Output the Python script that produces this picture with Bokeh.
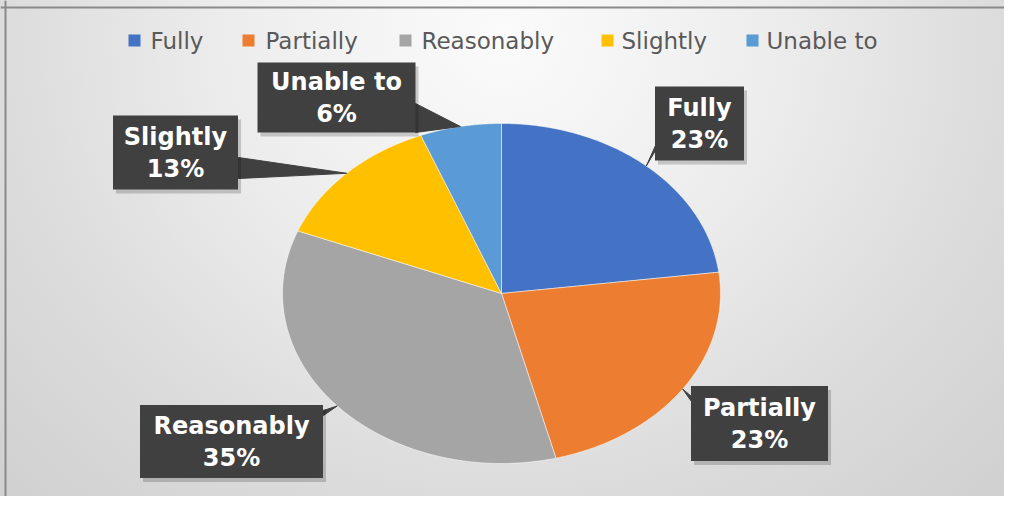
import numpy as np
from bokeh.plotting import figure
from bokeh.models import ColumnDataSource, Range1d, Span
from bokeh.core.properties import value
from bokeh.embed import file_html
from bokeh.resources import INLINE

# ---------------- data ----------------
categories = ["Fully", "Partially", "Reasonably", "Slightly", "Unable to"]
percent = [23, 23, 35, 13, 6]
colors = ["#4472C4", "#ED7D31", "#A5A5A5", "#FFC000", "#5B9BD5"]

# ---------------- layout (picture pixel coordinates) ----------------
W, H = 1004, 496
CX, CY, RX, RY = 501, 293, 219, 170
label_cx = [699, 759, 231, 175, 336]
label_cy = [123, 423, 441, 152, 97]
label_w = [89, 137, 183, 125, 158]
label_h = [74, 75, 73, 74, 70]
pointer_base = [((655, 145), (655, 150)),
                ((691, 396), (691, 401)),
                ((323, 410), (323, 415)),
                ((238, 157), (238, 178)),
                ((415, 103), (415, 132))]
legend_sq_x = [134, 248, 405, 607, 752]
legend_tx = [150, 265, 421, 621, 766]
legend_y = 40

p = figure(width=W, height=H, output_backend="svg", toolbar_location=None,
           x_range=Range1d(0, W), y_range=Range1d(H, 0),
           min_border=0, outline_line_color=None)
p.axis.visible = False
p.grid.visible = False
p.background_fill_color = None
p.border_fill_color = None
p.styles = {"background-image":
            "radial-gradient(ellipse farthest-corner at 50% 8%, #fbfbfb 0%, #ececec 40%, #dcdcdc 70%, #d0d0d0 100%)"}

# frame lines
p.add_layout(Span(location=7, dimension="width", line_color="#8a8a8a", line_width=2))
p.add_layout(Span(location=5, dimension="height", line_color="#8a8a8a", line_width=2))

# pie slices (clockwise from 12 o'clock) on an ellipse
total = float(sum(percent))
fr = np.cumsum([0] + percent) / total
xs, ys, tipx, tipy = [], [], [], []
for i in range(len(percent)):
    a = np.linspace(fr[i], fr[i + 1], 120) * 2 * np.pi
    xs.append([CX] + list(CX + RX * np.sin(a)))
    ys.append([CY] + list(CY - RY * np.cos(a)))
    m = (fr[i] + fr[i + 1]) * np.pi
    tipx.append(CX + RX * np.sin(m))
    tipy.append(CY - RY * np.cos(m))

src = ColumnDataSource(dict(xs=xs, ys=ys, color=colors, cat=categories))
p.patches("xs", "ys", source=src, fill_color="color", line_color="white",
          line_width=1, line_alpha=0.5)

# callout pointers
pxs, pys = [], []
for i, (b1, b2) in enumerate(pointer_base):
    pxs.append([b1[0], b2[0], tipx[i]])
    pys.append([b1[1], b2[1], tipy[i]])
p.patches(pxs, pys, fill_color="#404040", line_color="#404040", line_width=1)

# label boxes (shadow + box)
p.rect([x + 3 for x in label_cx], [y + 4 for y in label_cy], label_w, label_h,
       fill_color="black", fill_alpha=0.18, line_color=None)
p.rect(label_cx, label_cy, label_w, label_h, fill_color="#404040", line_color=None)
p.text(label_cx, [y - 16 for y in label_cy], text=categories,
       text_font=value("DejaVu Sans"), text_font_style="bold", text_font_size="24px",
       text_color="white", text_align="center", text_baseline="middle")
p.text(label_cx, [y + 16 for y in label_cy], text=[f"{v}%" for v in percent],
       text_font=value("DejaVu Sans"), text_font_style="bold", text_font_size="24px",
       text_color="white", text_align="center", text_baseline="middle")

# legend
p.scatter(legend_sq_x, [legend_y] * len(categories), marker="square", size=12,
          fill_color=colors, line_color=None)
p.text(legend_tx, [legend_y] * len(categories), text=categories,
       text_font=value("DejaVu Sans"), text_font_size="23px", text_color="#595959",
       text_align="left", text_baseline="middle")

open("out.html", "w").write(file_html(p, INLINE))
